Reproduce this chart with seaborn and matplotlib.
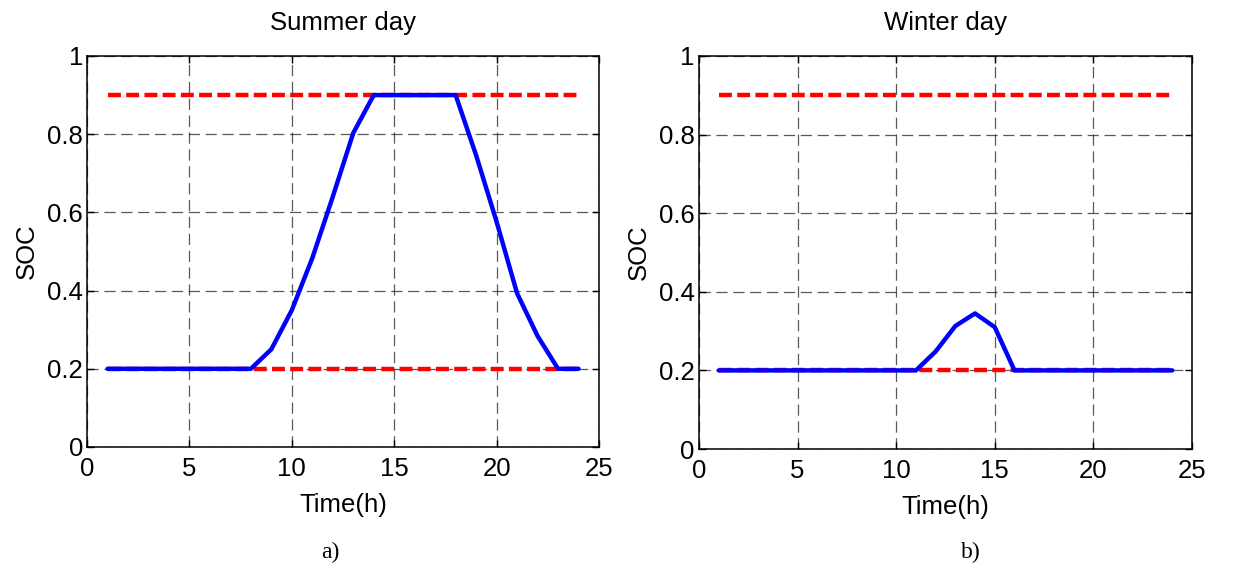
import numpy as np
import pandas as pd
import seaborn as sns
import matplotlib.pyplot as plt

# Data
hours = list(range(1, 25))
soc_summer = [0.2, 0.2, 0.2, 0.2, 0.2, 0.2, 0.2, 0.2, 0.25, 0.35, 0.483, 0.64,
              0.803, 0.9, 0.9, 0.9, 0.9, 0.9, 0.746, 0.576, 0.393, 0.284, 0.2, 0.2]
soc_winter = [0.2, 0.2, 0.2, 0.2, 0.2, 0.2, 0.2, 0.2, 0.2, 0.2, 0.2, 0.248,
              0.313, 0.345, 0.31, 0.2, 0.2, 0.2, 0.2, 0.2, 0.2, 0.2, 0.2, 0.2]
soc_max = [0.9] * 24
soc_min = [0.2] * 24

titles = ["Summer day", "Winter day"]
captions = ["a)", "b)"]
xticks = [0, 5, 10, 15, 20, 25]
yticks = [0, 0.2, 0.4, 0.6, 0.8, 1]
yticklabels = ["0", "0.2", "0.4", "0.6", "0.8", "1"]

sns.set_style("ticks")
plt.rcParams['font.family'] = ['Liberation Sans', 'DejaVu Sans']
plt.rcParams.update({"text.color": "black", "axes.labelcolor": "black",
                     "xtick.color": "black", "ytick.color": "black"})

fig = plt.figure(figsize=(12.33, 5.73), dpi=100)
ax1 = fig.add_axes([0.0706, 0.2199, 0.4152, 0.6824])
ax2 = fig.add_axes([0.5669, 0.2164, 0.3998, 0.6859])

fs = 18.5
for ax, soc, title in zip([ax1, ax2], [soc_summer, soc_winter], titles):
    df = pd.DataFrame({"hour": hours, "soc": soc, "max": soc_max, "min": soc_min})
    sns.lineplot(data=df, x="hour", y="max", ax=ax, color="#ff0000", lw=3.2,
                 linestyle=(0, (2.9, 1.2)), zorder=3)
    sns.lineplot(data=df, x="hour", y="min", ax=ax, color="#ff0000", lw=3.2,
                 linestyle=(0, (2.9, 1.2)), zorder=3)
    sns.lineplot(data=df, x="hour", y="soc", ax=ax, color="#0000ff", lw=3.2, zorder=4)

    ax.set_xlim(0, 25)
    ax.set_ylim(0, 1)
    ax.set_xticks(xticks)
    ax.set_yticks(yticks)
    ax.set_yticklabels(yticklabels)
    ax.tick_params(direction="in", length=5, width=1, top=True, right=True,
                   labelsize=fs)
    ax.tick_params(axis="x", pad=7)
    ax.tick_params(axis="y", pad=3)
    ax.grid(True, color="#222222", linestyle=(0, (9, 4.5)), lw=0.9, alpha=0.75)
    for sp in ax.spines.values():
        sp.set_linewidth(1.1)
        sp.set_color("black")
    ax.set_title(title, fontsize=fs, pad=19)
    ax.set_xlabel("Time(h)", fontsize=fs, labelpad=9)
    ax.set_ylabel("SOC", fontsize=fs, labelpad=6)

fig.text(0.268, 0.035, captions[0], fontsize=17, family="Liberation Serif",
         ha="center", va="center")
fig.text(0.787, 0.035, captions[1], fontsize=17, family="Liberation Serif",
         ha="center", va="center")

fig.savefig("out.png", dpi=100)
